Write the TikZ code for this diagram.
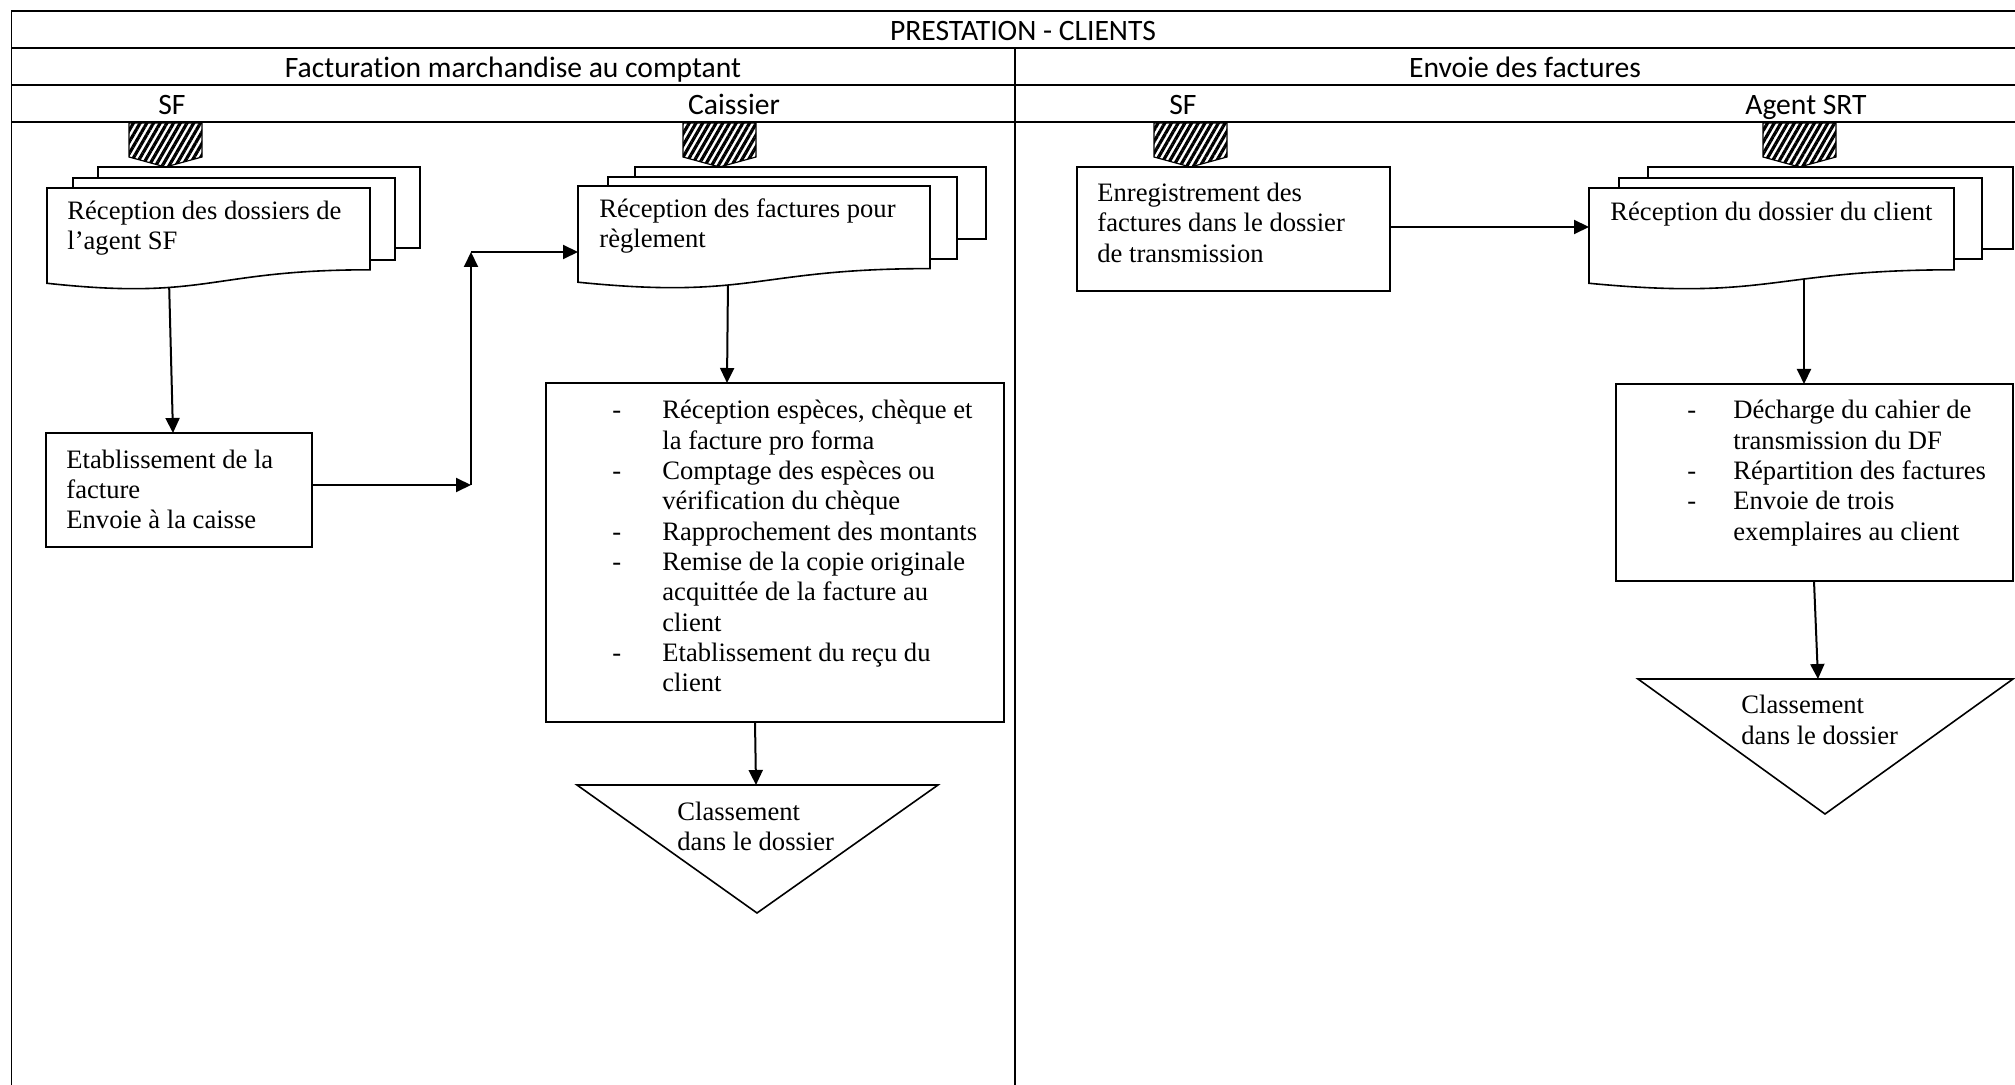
\documentclass[tikz,border=0pt]{standalone}
\usepackage{fontspec}
\setmainfont{Liberation Serif}
\newfontfamily\hdrfont[Ligatures=NoCommon]{Carlito}
\usetikzlibrary{arrows.meta,patterns.meta,fit}
\newcommand\hatchat[2]{\draw[hatch] (#1,123) -- ++(73,0) -- ++(0,34) -- ++(-36.5,10) coordinate (#2) -- ++(-36.5,-10) -- cycle;}
\newcommand\frontdoc[4]{\draw[shp] (#1,#2) -- (#3,#2) -- (#3,{#2+0.802*#4}) .. controls ({(#1+#3)/2},{#2+0.802*#4}) and ({(#1+#3)/2},{#2+1.107*#4}) .. (#1,{#2+0.934*#4}) -- cycle;}
\begin{document}
\begin{tikzpicture}[x=0.5pt,y=-0.5pt,
  lane/.style={line width=1pt},
  vlane/.style={line width=0.8pt},
  shp/.style={draw, line width=0.8pt, fill=white},
  box/.style={shp, inner sep=0pt},
  hatch/.style={draw, line width=0.6pt, pattern={Lines[angle=60,distance=2.9pt,line width=1.6pt]}},
  arr/.style={line width=1pt, -{Triangle[length=7.5pt,width=7pt]}},
  hdr/.style={font=\hdrfont\fontsize{14.8pt}{17pt}\selectfont, anchor=base, inner sep=0pt},
  txt/.style={font=\fontsize{13.3pt}{15pt}\selectfont, anchor=base west, inner sep=0pt},
]
\useasboundingbox (0,0) rectangle (2015,1085);

% ---- swimlane frame ----
\draw[lane] (11,11) -- (2015,11);
\draw[lane] (11,48) -- (2015,48);
\draw[lane] (11,85) -- (2015,85);
\draw[lane] (11,122) -- (2015,122);
\draw[vlane] (11.5,11) -- (11.5,1085);
\draw[vlane] (1015,48) -- (1015,1085);

\node[hdr] (hTitle) at (1023,41) {PRESTATION - CLIENTS};
\node[hdr] (hFact) at (513,78) {Facturation marchandise au comptant};
\node[hdr] (hEnv) at (1525,78) {Envoie des factures};
\node[hdr] (hSF1) at (172,115) {SF};
\node[hdr] (hCai) at (734,115) {Caissier};
\node[hdr] (hSF2) at (1183,115) {SF};
\node[hdr] (hAg) at (1806,115) {Agent SRT};

% ---- coordinates for connectors ----
\coordinate (docSFbot) at (169,280);
\coordinate (etabIn) at (173,433);
\coordinate (etabOut) at (312,485);
\coordinate (j1) at (471,485);
\coordinate (j2) at (471,252);
\coordinate (caiIn) at (578,252);
\coordinate (caiBot) at (728,280);
\coordinate (listCIn) at (727,383);
\coordinate (listCOut) at (755,722);
\coordinate (triCIn) at (756,785);
\coordinate (enrOut) at (1390,227);
\coordinate (agIn) at (1589,227);
\coordinate (agBot) at (1804,275);
\coordinate (listAIn) at (1804,384);
\coordinate (listAOut) at (1814,581);
\coordinate (triAIn) at (1818,679);

% ---- connectors ----
\draw[arr] (docSFbot) -- (etabIn);
\draw[arr] (etabOut) -- (j1);
\draw[arr] (j1) -- (j2);
\draw[arr] (j2) -- (caiIn);
\draw[arr] (caiBot) -- (listCIn);
\draw[arr] (listCOut) -- (triCIn);
\draw[arr] (enrOut) -- (agIn);
\draw[arr] (agBot) -- (listAIn);
\draw[arr] (listAOut) -- (triAIn);

% ---- off-page connectors ----
\hatchat{129}{tip1}
\hatchat{683}{tip2}
\hatchat{1154}{tip3}
\hatchat{1763}{tip4}

% ---- SF multidocument ----
\draw[shp] (98,167) rectangle (420,248);
\draw[shp] (73,178) rectangle (395,260);
\frontdoc{47}{188}{370}{102}
\node[txt] (dSF1) at (67,220) {Réception des dossiers de};
\node[txt] (dSF2) at (67,250) {l’agent SF};

% ---- Etablissement ----
\node[box, fit={(46,433) (312,547)}] (etab) {};
\node[txt] (e1) at (66,469) {Etablissement de la};
\node[txt] (e2) at (66,499) {facture};
\node[txt] (e3) at (66,529) {Envoie à la caisse};

% ---- Caissier multidocument ----
\draw[shp] (635,167) rectangle (986,239);
\draw[shp] (608,177) rectangle (957,259);
\frontdoc{578}{186}{930}{103}
\node[txt] (dC1) at (599,218) {Réception des factures pour};
\node[txt] (dC2) at (599,248) {règlement};

% ---- Caissier list ----
\node[box, fit={(546,383) (1004,722)}] (listC) {};
\foreach \t [count=\i from 0] in {{Réception espèces, chèque et},{la facture pro forma},{Comptage des espèces ou},{vérification du chèque},{Rapprochement des montants},{Remise de la copie originale},{acquittée de la facture au},{client},{Etablissement du reçu du},{client}}
  \node[txt] (lc\i) at (662,{419+30.3*\i}) {\t};
\foreach \i in {0,2,4,5,8}
  \node[txt] (lcd\i) at (612,{419+30.3*\i}) {-};

% ---- Caissier triangle ----
\draw[shp] (577,785) -- (938,785) -- (757,913) -- cycle;
\node[txt] (tc1) at (677,820) {Classement};
\node[txt] (tc2) at (677,850) {dans le dossier};

% ---- Enregistrement ----
\node[box, fit={(1077,167) (1390,291)}] (enr) {};
\node[txt] (en1) at (1097,202) {Enregistrement des};
\node[txt] (en2) at (1097,232) {factures dans le dossier};
\node[txt] (en3) at (1097,263) {de transmission};

% ---- Agent multidocument ----
\draw[shp] (1648,167) rectangle (2013,249);
\draw[shp] (1619,178) rectangle (1982,259);
\frontdoc{1589}{188}{1954}{102}
\node[txt] (dA1) at (1610,221) {Réception du dossier du client};

% ---- Agent list ----
\node[box, fit={(1616,384) (2013,581)}] (listA) {};
\foreach \t [count=\i from 0] in {{Décharge du cahier de},{transmission du DF},{Répartition des factures},{Envoie de trois},{exemplaires au client}}
  \node[txt] (la\i) at (1733,{419+30.3*\i}) {\t};
\foreach \i in {0,2,3}
  \node[txt] (lad\i) at (1687,{419+30.3*\i}) {-};

% ---- Agent triangle ----
\draw[shp] (1638,679) -- (2013,679) -- (1825,814) -- cycle;
\node[txt] (ta1) at (1741,713) {Classement};
\node[txt] (ta2) at (1741,744) {dans le dossier};
\end{tikzpicture}
\end{document}
